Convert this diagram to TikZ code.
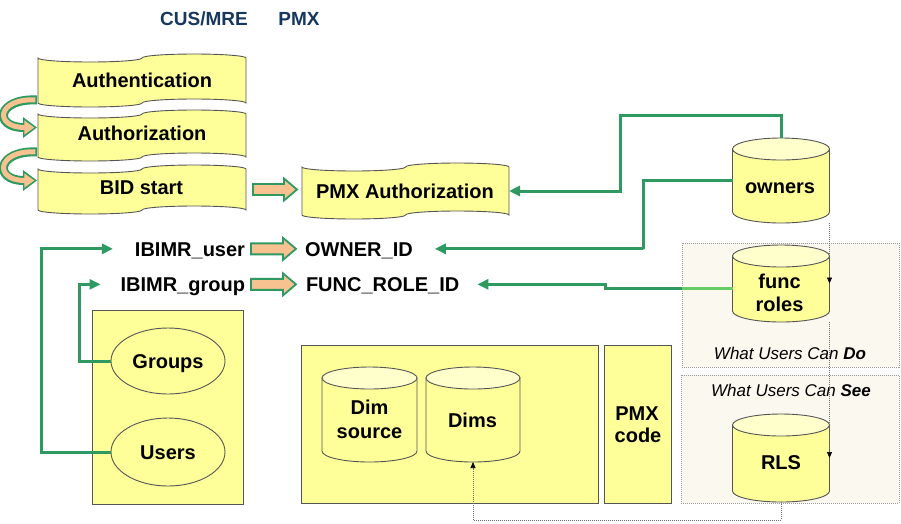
\documentclass[tikz,border=0pt]{standalone}
\usepackage{fontspec}
\setmainfont{Liberation Sans}
\usetikzlibrary{arrows.meta,calc,shapes.geometric}
\definecolor{yel}{HTML}{FFFF99}
\definecolor{yeltop}{HTML}{FFFFCC}
\definecolor{grn}{HTML}{2E9A62}
\definecolor{lgrn}{HTML}{66CC66}
\definecolor{tanc}{HTML}{F8C290}
\definecolor{hdrblue}{HTML}{17375E}
\definecolor{dotbg}{HTML}{FBF8F0}
\definecolor{dotln}{HTML}{9A9A9A}
\definecolor{edge}{HTML}{555555}

% tape (punched-tape) shape: name, x0, x1, ytop, ybottom
\newcommand\tapeshape[5]{%
  \node[anchornode, minimum width={#3-#2}, minimum height={#5-#4}] (#1) at ({(#2+#3)/2},{(#4+#5)/2}) {};
  \pgfmathsetmacro\tq{(#3-#2)/4}%
  \draw[boxstyle] (#2,#4) arc[start angle=180,end angle=360,x radius=\tq pt,y radius=4pt]
    arc[start angle=180,end angle=0,x radius=\tq pt,y radius=4pt] -- (#3,#5)
    arc[start angle=0,end angle=180,x radius=\tq pt,y radius=4pt]
    arc[start angle=0,end angle=-180,x radius=\tq pt,y radius=4pt] -- cycle;}

% cylinder: name, cx, rx, ytop-centre, ybottom-centre
\newcommand\cylshape[5]{%
  \node[anchornode, minimum width={2*#3}, minimum height={#5-#4+22}] (#1) at (#2,{(#4+#5)/2}) {};
  \filldraw[cylstyle] ({#2-#3},#4) -- ({#2-#3},#5) arc[start angle=180,end angle=360,x radius=#3pt,y radius=11pt] -- ({#2+#3},#4) -- cycle;
  \filldraw[cylstyle, fill=yeltop] (#2,#4) ellipse[x radius=#3pt, y radius=11pt];}

% block arrow between two points
\newcommand\blockarrow[2]{%
  \path[draw=grn, fill=tanc, line width=1.8pt] let \p1=#1, \p2=#2 in
   (\x1,{\y1+5.5pt}) -- ({\x2-13pt},{\y1+5.5pt}) -- ({\x2-13pt},{\y1+11pt}) -- (\x2,\y1)
   -- ({\x2-13pt},{\y1-11pt}) -- ({\x2-13pt},{\y1-5.5pt}) -- (\x1,{\y1-5.5pt}) -- cycle;}

% curved block arrow
\newcommand\curvearrow[2]{%
  \draw[draw=grn, line width=9pt, -{Triangle[length=14pt,width=20pt]}] #1 .. controls +(-40,-2) and +(-44,0) .. #2;
  \draw[draw=tanc, line width=5pt, shorten <=1.6pt, shorten >=2.6pt, -{Triangle[length=10pt,width=13.5pt]}] #1 .. controls +(-40,-2) and +(-44,0) .. #2;}

\begin{document}
\begin{tikzpicture}[x=1pt,y=-1pt,
  lbl/.style={font=\fontsize{20}{24}\selectfont\bfseries, inner sep=0pt, outer sep=0pt, text height=14.3pt, text depth=0pt},
  hdr/.style={font=\fontsize{19}{23}\selectfont\bfseries, text=hdrblue, inner sep=0pt, anchor=base},
  ital/.style={font=\fontsize{17}{20}\selectfont\itshape, inner sep=0pt, anchor=base},
  anchornode/.style={shape=rectangle, inner sep=0pt, outer sep=0pt, draw=none},
  boxstyle/.style={draw=edge, fill=yel, line width=0.9pt},
  cylstyle/.style={draw=edge, fill=yel, line width=0.9pt},
  conn/.style={draw=grn, line width=3pt, -{Triangle[length=11pt,width=10pt]}},
  dotbox/.style={shape=rectangle, draw=dotln, fill=dotbg, line width=0.7pt, dash pattern=on 1pt off 1pt, inner sep=0pt},
  dotc/.style={draw=dotln!70!black, line width=0.7pt, dash pattern=on 1pt off 1pt, -{Triangle[length=6pt,width=5pt,color=black]}},
]
\useasboundingbox (0,0) rectangle (901,523);

% header
\node[hdr] (h1) at (204,25) {CUS/MRE};
\node[hdr] (h2) at (299,25) {PMX};

% dotted boxes
\node[dotbox, minimum width=217pt, minimum height=124pt] (dobox) at (790.5,305) {};
\node[dotbox, minimum width=218pt, minimum height=128pt] (seebox) at (790,439) {};
\node[ital] (dotxt) at (790,359) {What Users Can \textbf{Do}};
\node[ital] (seetxt) at (791,396) {What Users Can \textbf{See}};

% plain boxes
\node[boxstyle, minimum width=151pt, minimum height=194pt, inner sep=0pt] (ubox) at (167.5,407) {};
\node[boxstyle, minimum width=297pt, minimum height=158pt, inner sep=0pt] (dbox) at (449.5,424) {};
\node[boxstyle, minimum width=67pt, minimum height=158pt, inner sep=0pt] (pbox) at (637.5,424) {};

% tapes
\tapeshape{auth}{38}{246}{58}{103}
\tapeshape{authz}{38}{246}{114}{157}
\tapeshape{bid}{38}{246}{169}{210}
\tapeshape{pmxa}{302}{509}{167}{215}
\node[lbl, anchor=base] (tauth) at (142,87) {Authentication};
\node[lbl, anchor=base] (tauthz) at (142,140) {Authorization};
\node[lbl, anchor=base] (tbid) at (141.5,194) {BID start};
\node[lbl, anchor=base] (tpmxa) at (405,198) {PMX Authorization};

% curved arrows
\curvearrow{([shift={(-1pt,3pt)}]auth.south west)}{([shift={(-1pt,8pt)}]authz.west)}
\curvearrow{([shift={(-1pt,5pt)}]authz.south west)}{([shift={(-1pt,9pt)}]bid.west)}

% id labels
\node[lbl, anchor=base east] (ibu) at (245,256) {IBIMR\_user};
\node[lbl, anchor=base east] (ibg) at (245,291.5) {IBIMR\_group};
\node[lbl, anchor=base west] (ownerid) at (305,256) {OWNER\_ID};
\node[lbl, anchor=base west] (funcroleid) at (306,291.5) {FUNC\_ROLE\_ID};

% block arrows
\blockarrow{([xshift=7pt]bid.east)}{([xshift=-5pt]pmxa.west)}
\blockarrow{([xshift=6pt]ibu.east)}{([xshift=-9pt]ownerid.west)}
\blockarrow{([xshift=6pt]ibg.east)}{([xshift=-10pt]funcroleid.west)}

% cylinders
\cylshape{owners}{781}{48.5}{149}{212}
\cylshape{funcroles}{781}{48.5}{256}{311}
\cylshape{rls}{781}{48.5}{425}{491}
\cylshape{dimsrc}{369.5}{47.5}{378}{451}
\cylshape{dims}{473}{47}{378}{451}

% green connectors
\draw[conn] (owners.north) |- (620,115) |- (pmxa.east);
\draw[conn] (owners.west) -| (643,249) |- ([xshift=22pt]ownerid.east);
\draw[conn] ([yshift=-4.5pt]funcroles.west) -- (605,288) |- ([xshift=18pt]funcroleid.east);
\draw[draw=lgrn, line width=3pt] ([yshift=-4.5pt]funcroles.west) -- (682,288);

% groups / users
\node[ellipse, draw=edge, fill=yel, line width=0.9pt, minimum width=114pt, minimum height=66pt, inner sep=0pt,
      font=\fontsize{20}{24}\selectfont\bfseries, text height=14.3pt, text depth=0pt] (groups) at (168,361) {Groups};
\node[ellipse, draw=edge, fill=yel, line width=0.9pt, minimum width=114pt, minimum height=68pt, inner sep=0pt,
      font=\fontsize{20}{24}\selectfont\bfseries, text height=14.3pt, text depth=0pt] (users) at (168,452) {Users};
\draw[conn] (users.west) -| (41,249) |- ([xshift=-22pt]ibu.west);
\draw[conn] (groups.west) -| (79,285) |- ([xshift=-20pt]ibg.west);

% dotted connectors
\draw[dotc] (owners.south east) -- (funcroles.east);
\draw[dotc] (funcroles.south east) -- (rls.east);
\draw[dotc] (rls.south) -- (781,520) -| (dims.south);

% cylinder labels
\node[lbl, anchor=base] (lowners) at (780,193) {owners};
\node[lbl, anchor=base] (lfunc) at (779.5,288) {func};
\node[lbl, anchor=base] (lroles) at (779.5,311) {roles};
\node[lbl, anchor=base] (lrls) at (781,469) {RLS};
\node[lbl, anchor=base] (ldim) at (369.5,414) {Dim};
\node[lbl, anchor=base] (lsource) at (369.5,438) {source};
\node[lbl, anchor=base] (ldims) at (472.5,427) {Dims};
\node[lbl, anchor=base] (lpmx) at (637,420) {PMX};
\node[lbl, anchor=base] (lcode) at (638,442) {code};
\end{tikzpicture}
\end{document}
